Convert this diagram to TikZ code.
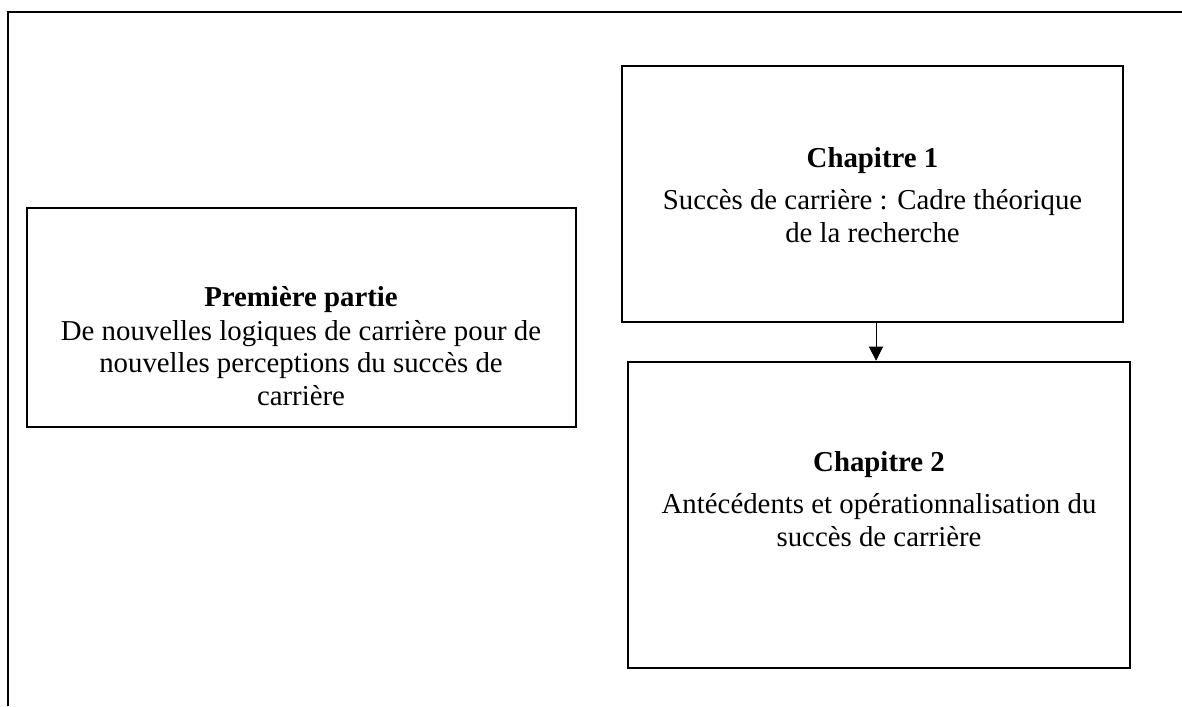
\documentclass[tikz,border=0pt]{standalone}
\usepackage{fontspec}
\setmainfont{Liberation Serif}
\usetikzlibrary{arrows.meta}

\tikzset{
    partbox/.style={draw=black, line width=1.8pt, inner sep=0pt},
    parttext/.style={align=center, font=\fontsize{20.5}{23.2}\selectfont},
}

\begin{document}
\begin{tikzpicture}[x=0.025cm, y=-0.025cm]
        \useasboundingbox (0,0) rectangle (1182,706);
        \draw[line width=1.8pt] (8,706) |- (1182,12);

        \node[partbox, minimum width=13.73cm, minimum height=5.48cm] (partie) at (301.5,317.5) {};
        \node[partbox, minimum width=12.53cm, minimum height=6.4cm] (chap1) at (872.5,194) {};
        \node[partbox, minimum width=12.55cm, minimum height=7.65cm] (chap2) at (879,515) {};

        \node[parttext] (partietxt) at (301,346) {\textbf{Première partie}\\[1pt]De nouvelles logiques de carrière pour de\\nouvelles perceptions du succès de\\carrière};
        \node[parttext] (chap1txt) at (872.5,195) {\textbf{Chapitre 1}\\[6.5pt]Succès de carrière : Cadre théorique\\de la recherche};
        \node[parttext] (chap2txt) at (879,499) {\textbf{Chapitre 2}\\[6.5pt]Antécédents et opérationnalisation du\\succès de carrière};

        \draw[line width=0.6pt, -{Triangle[width=10pt,length=10pt]}] ([xshift=2.5pt]chap1.south) -- ([xshift=2.5pt]chap1.south |- chap2.north);
    \end{tikzpicture}
\end{document}
